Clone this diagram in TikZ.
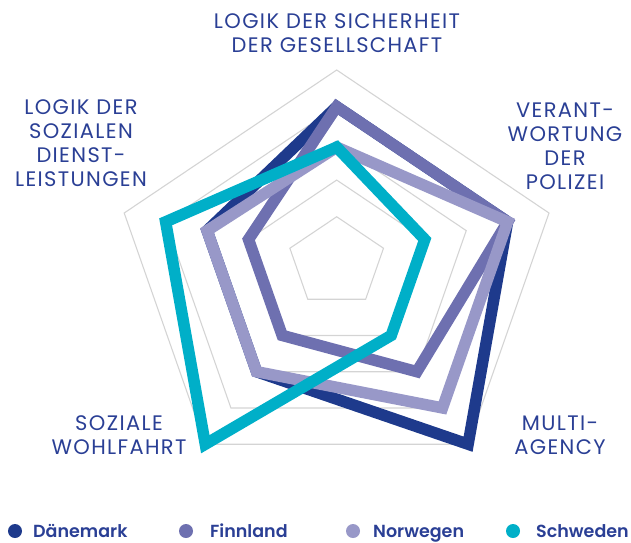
\documentclass[tikz,border=0pt]{standalone}
\usepackage{fontspec}
\setmainfont{Poppins}
\newfontfamily\legfont{Poppins}[UprightFont=* SemiBold]
\newfontfamily\labfont{Poppins}[LetterSpace=6.5]
\definecolor{dk}{HTML}{1E3A8C}
\definecolor{fi}{HTML}{6E70B0}
\definecolor{no}{HTML}{9898C8}
\definecolor{se}{HTML}{00AFC8}
\definecolor{txt}{HTML}{2A3F95}
\definecolor{gridc}{HTML}{D4D4D4}
\def\axa{0}\def\aya{-188.2}
\def\axb{212.3}\def\ayb{-45.2}
\def\axc{131.4}\def\ayc{186}
\def\axd{-131.4}\def\ayd{186}
\def\axe{-212.5}\def\aye{-45.2}
\newcommand\rp[2]{({336.7+(#2)*\csname ax#1\endcsname},{258.2+(#2)*\csname ay#1\endcsname})}
\newcommand\radar[5]{\rp{a}{#1} -- \rp{b}{#2} -- \rp{c}{#3} -- \rp{d}{#4} -- \rp{e}{#5} -- cycle}
\tikzset{
  gridline/.style={draw=gridc, line width=1.1pt},
  series/.style={line width=11.5pt, line join=miter, miter limit=10},
  axislabel/.style={text=txt, align=center, inner sep=0pt, font=\labfont\fontsize{21}{24}\selectfont},
  legtext/.style={text=txt, anchor=base west, inner sep=0pt, font=\legfont\fontsize{17.5}{20}\selectfont},
  legdot/.style={circle, minimum size=14pt, inner sep=0pt}
}
\begin{document}
\begin{tikzpicture}[x=1pt,y=-1pt]
\useasboundingbox (0,0) rectangle (631,542);
% grid
\foreach \k in {1,...,5}{
  \pgfmathsetmacro\s{0.0255+0.1949*\k}
  \draw[gridline] \radar{\s}{\s}{\s}{\s}{\s};
}
% series
\draw[series, draw=dk] \radar{0.805}{0.805}{1.0}{0.61}{0.61};
\draw[series, draw=fi] \radar{0.805}{0.805}{0.61}{0.415}{0.415};
\draw[series, draw=no] \radar{0.59}{0.805}{0.805}{0.61}{0.61};
\draw[series, draw=se] \radar{0.59}{0.415}{0.415}{1.0}{0.805};
% axis labels
\node[axislabel] (la) at (337,33) {LOGIK DER SICHERHEIT\\DER GESELLSCHAFT};
\node[axislabel] (lb) at (565,146) {VERANT-\\WORTUNG\\DER\\POLIZEI};
\node[axislabel] (lc) at (560,435) {MULTI-\\AGENCY};
\node[axislabel] (ld) at (119,435) {SOZIALE\\WOHLFAHRT};
\node[axislabel] (le) at (81,143.5) {LOGIK DER\\SOZIALEN\\DIENST-\\LEISTUNGEN};
% legend
\node[legdot, fill=dk] (d1) at (15,531) {};
\node[legtext] (t1) at (33,537) {Dänemark};
\node[legdot, fill=fi] (d2) at (186,531) {};
\node[legtext] (t2) at (210,537) {Finnland};
\node[legdot, fill=no] (d3) at (353,531) {};
\node[legtext] (t3) at (373,537) {Norwegen};
\node[legdot, fill=se] (d4) at (513,531) {};
\node[legtext] (t4) at (536,537) {Schweden};
\end{tikzpicture}
\end{document}
